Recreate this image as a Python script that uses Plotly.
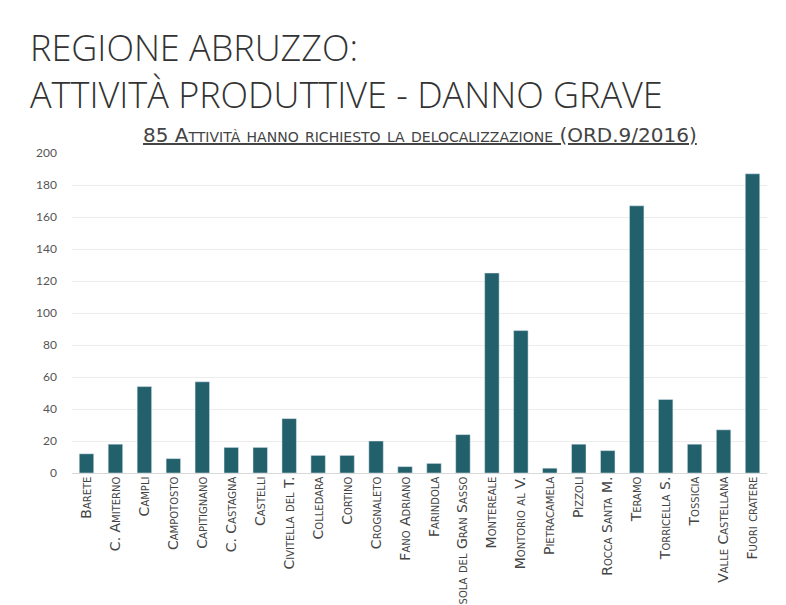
import plotly.graph_objects as go

comuni = ["Barete", "C. Amiterno", "Campli", "Campotosto", "Capitignano", "C. Castagna",
          "Castelli", "Civitella del T.", "Colledara", "Cortino", "Crognaleto", "Fano Adriano",
          "Farindola", "Isola del Gran Sasso", "Montereale", "Montorio al V.", "Pietracamela",
          "Pizzoli", "Rocca Santa M.", "Teramo", "Torricella S.", "Tossicia", "Valle Castellana",
          "Fuori cratere"]
attivita = [12, 18, 54, 9, 57, 16, 16, 34, 11, 11, 20, 4, 6, 24, 125, 89, 3, 18, 14, 167, 46, 18, 27, 187]
y_ticks = [0, 20, 40, 60, 80, 100, 120, 140, 160, 180, 200]
title_lines = ["REGIONE ABRUZZO:", "ATTIVITÀ PRODUTTIVE - DANNO GRAVE"]
subtitle = "85 Attività hanno richiesto la delocalizzazione (ORD.9/2016)"

# page body has an 8px margin; positions below are in screenshot pixels
OFF = 8
W, H = 786, 605
L, T = 72 - OFF, 153 - OFF
pw, ph = 695, 320
R, B = W - L - pw, H - T - ph


def px_x(x):
    return (x - OFF - L) / pw


def px_y(y):
    return (T + ph - (y - OFF)) / ph


fig = go.Figure(go.Bar(x=comuni, y=attivita, marker_color="#22606b", width=0.5))

fig.update_layout(
    width=W, height=H,
    margin=dict(l=L, r=R, t=T, b=B),
    paper_bgcolor="white", plot_bgcolor="white",
    showlegend=False,
    font=dict(family="Lato", color="#444"),
    xaxis=dict(tickangle=-90, tickfont=dict(family="DejaVu Sans", size=14, color="#444", variant="small-caps"),
               showline=True, linecolor="#d9d9d9", ticks="", ticklabelstandoff=-3, automargin=False),
    yaxis=dict(range=[0, 200], tickvals=y_ticks, showgrid=True, gridcolor="#ececec",
               tickfont=dict(size=12, color="#555"), zeroline=False, ticklabelstandoff=14,
               automargin=False),
)

fig.add_annotation(text="<br>".join(title_lines), xref="paper", yref="paper",
                   x=px_x(28), y=px_y(71), align="left",
                   showarrow=False, xanchor="left", yanchor="middle",
                   font=dict(family="Open Sans", size=36, weight=300, color="#333"))

fig.add_annotation(text=subtitle,
                   xref="paper", yref="paper", x=px_x(420), y=px_y(135),
                   showarrow=False, xanchor="center", yanchor="middle",
                   font=dict(family="DejaVu Sans", size=20, color="#444", variant="small-caps",
                             lineposition="under"))

fig.write_html("out.html")
